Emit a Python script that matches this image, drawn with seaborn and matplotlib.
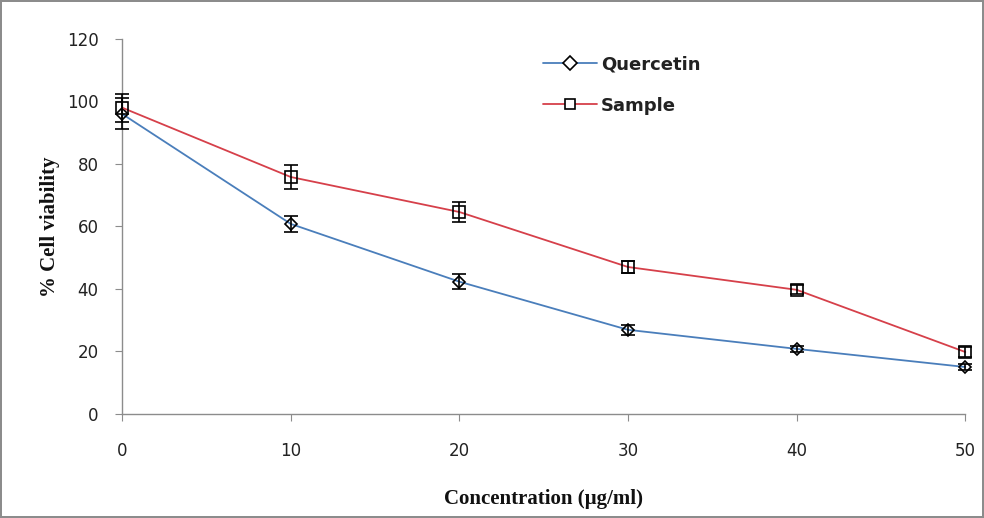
import matplotlib
matplotlib.use("Agg")
import matplotlib.pyplot as plt
import pandas as pd
import seaborn as sns

concentration = [0, 10, 20, 30, 40, 50]
quercetin = [96, 60.8, 42.3, 26.9, 20.8, 15.0]
quercetin_err = [5.0, 2.6, 2.4, 1.5, 1.0, 1.0]
sample = [98, 75.8, 64.6, 47.0, 39.7, 19.8]
sample_err = [4.5, 3.7, 3.2, 2.0, 1.5, 1.5]

sns.set_style("white")
plt.rcParams["font.family"] = ["DejaVu Sans"]

df = pd.DataFrame({
    "conc": concentration * 2,
    "viab": quercetin + sample,
    "series": ["Quercetin"] * 6 + ["Sample"] * 6,
})

fig = plt.figure(figsize=(9.84, 5.18), dpi=100)
fig.patch.set_edgecolor("#8c8c8c")
fig.patch.set_linewidth(1.5)
ax = fig.add_axes([0.124, 0.201, 0.857, 0.724])

palette = {"Quercetin": "#4a7ebb", "Sample": "#d6404a"}
sns.lineplot(data=df, x="conc", y="viab", hue="series", style="series",
             markers={"Quercetin": "D", "Sample": "s"}, dashes=False,
             palette=palette, linewidth=1.3, markersize=9,
             markerfacecolor="none", markeredgecolor="black", markeredgewidth=1.2,
             ax=ax, clip_on=False, zorder=4)
ax.lines[0].set_markersize(6)

for y, e in [(quercetin, quercetin_err), (sample, sample_err)]:
    _, caps, bars = ax.errorbar(concentration, y, yerr=e, fmt="none",
                                ecolor="black", elinewidth=1.2, capsize=5,
                                capthick=1.2, zorder=5)
    for c in caps:
        c.set_clip_on(False)
    for b in bars:
        b.set_clip_on(False)

ax.set_xlim(0, 50)
ax.set_ylim(0, 120)
ax.set_xticks(range(0, 51, 10))
ax.set_yticks(range(0, 121, 20))
ax.tick_params(axis="both", labelsize=12, direction="out", length=5,
               color="#8c8c8c", labelcolor="#222222", bottom=True, left=True)
ax.tick_params(axis="x", pad=15)
ax.tick_params(axis="y", pad=12)
for s in ["top", "right"]:
    ax.spines[s].set_visible(False)
for s in ["left", "bottom"]:
    ax.spines[s].set_color("#8c8c8c")
    ax.spines[s].set_linewidth(1.0)

ax.set_xlabel("Concentration (µg/ml)", fontsize=15, fontweight="bold",
              family="Liberation Serif", labelpad=21, color="#111111")
ax.set_ylabel("% Cell viability", fontsize=15, fontweight="bold",
              family="Liberation Serif", labelpad=5, color="#111111")

leg = ax.legend(loc="upper left", bbox_to_anchor=(0.48, 1.0), frameon=False,
                prop={"weight": "bold", "size": 13}, handlelength=3.0,
                handletextpad=0.2, labelspacing=1.3)
leg.set_title(None)
for h in leg.get_lines():
    h.set_markersize(7)
    h.set_markerfacecolor("white")
for t in leg.get_texts():
    t.set_color("#222222")

fig.savefig("out.png", dpi=100)
